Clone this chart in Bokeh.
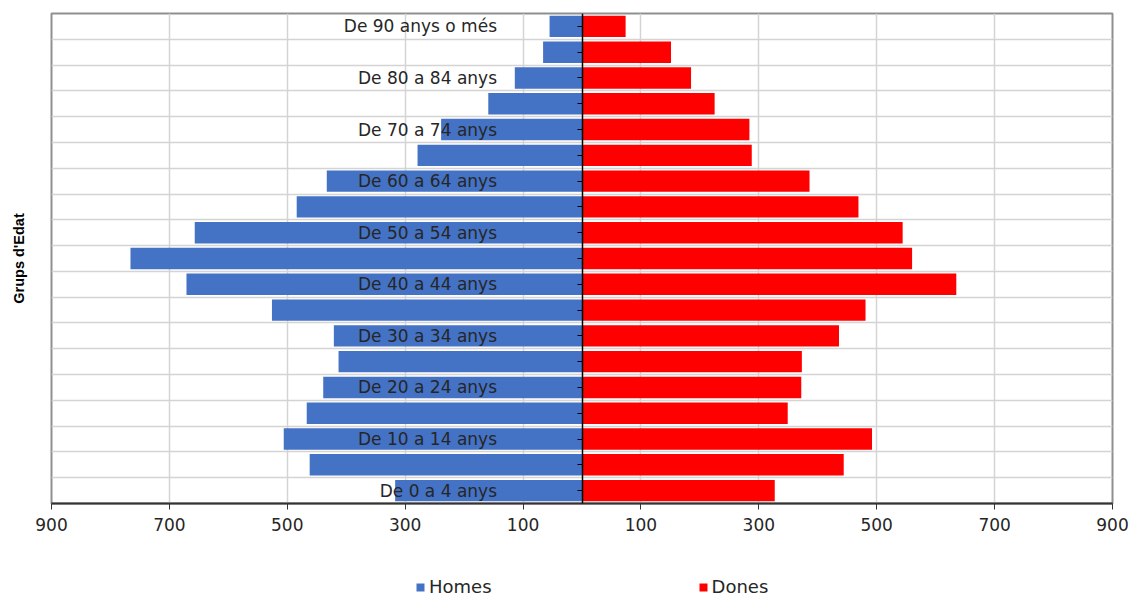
from bokeh.plotting import figure
from bokeh.models import (ColumnDataSource, Range1d, FixedTicker, LinearAxis,
                          Legend, LegendItem)
from bokeh.layouts import column
from bokeh.embed import file_html
from bokeh.resources import INLINE

# ---- data (bottom to top) ----
categories = ["De 0 a 4 anys", "De 5 a 9 anys", "De 10 a 14 anys", "De 15 a 19 anys",
              "De 20 a 24 anys", "De 25 a 29 anys", "De 30 a 34 anys", "De 35 a 39 anys",
              "De 40 a 44 anys", "De 45 a 49 anys", "De 50 a 54 anys", "De 55 a 59 anys",
              "De 60 a 64 anys", "De 65 a 69 anys", "De 70 a 74 anys", "De 75 a 79 anys",
              "De 80 a 84 anys", "De 85 a 89 anys", "De 90 anys o més"]
homes = [317, 462, 506, 467, 439, 413, 421, 526, 671, 766, 657, 484, 433, 279, 239, 159, 114, 66, 55]
dones = [327, 444, 492, 349, 372, 373, 436, 481, 635, 560, 544, 469, 386, 288, 284, 225, 185, 151, 74]
x_ticks = [-900, -700, -500, -300, -100, 100, 300, 500, 700, 900]
series_names = ["Homes", "Dones"]
series_colors = ["#4472C4", "#FF0000"]
axis_title = "Grups d'Edat"

idx = list(range(len(categories)))
src = ColumnDataSource(dict(
    y=idx,
    homes_left=[-v for v in homes],
    zero=[0] * len(idx),
    dones_right=dones,
))

TEXT = "#262626"
FONT = "DejaVu Sans"

p = figure(width=1130, height=560, output_backend="svg", toolbar_location=None,
           x_range=Range1d(-900, 900), y_range=Range1d(-0.5, len(categories) - 0.5),
           min_border_left=51, min_border_right=18, min_border_top=13, min_border_bottom=57)
p.background_fill_color = "white"
p.border_fill_color = "white"
p.outline_line_color = "#8f8f8f"
p.outline_line_width = 2

p.hbar(y="y", left="homes_left", right="zero", height=0.83, source=src,
       fill_color=series_colors[0], line_color=None)
p.hbar(y="y", left="zero", right="dones_right", height=0.83, source=src,
       fill_color=series_colors[1], line_color=None)

# x axis
xa = p.xaxis[0]
xa.ticker = FixedTicker(ticks=x_ticks)
xa.major_label_overrides = {t: str(abs(t)) for t in x_ticks}
xa.axis_line_color = "#333333"
xa.axis_line_width = 2
xa.major_tick_line_color = "#333333"
xa.major_tick_out = 6
xa.major_tick_in = 0
xa.minor_tick_out = 0
xa.minor_tick_in = 0
xa.major_label_standoff = 8
xa.major_label_text_font = FONT
xa.major_label_text_font_size = "17px"
xa.major_label_text_color = TEXT

# left axis: only carries the axis title (bounds shift the title upward)
la = p.yaxis[0]
la.ticker = FixedTicker(ticks=[])
la.bounds = (2.14, 18.5)
la.axis_line_color = None
la.major_tick_line_color = None
la.minor_tick_line_color = None
la.axis_label = axis_title
la.axis_label_standoff = 25
la.axis_label_text_font = "Liberation Sans"
la.axis_label_text_font_style = "bold"
la.axis_label_text_font_size = "14.5px"
la.axis_label_text_color = "black"

# vertical grid
p.xgrid.ticker = FixedTicker(ticks=x_ticks)
p.xgrid.grid_line_color = "#d4d4d4"
p.xgrid.grid_line_width = 1.5

# horizontal grid between age groups
p.ygrid.ticker = FixedTicker(ticks=[i + 0.5 for i in idx[:-1]])
p.ygrid.grid_line_color = "#d4d4d4"
p.ygrid.grid_line_width = 1.5

# category axis at zero
labels = {i: (c if i % 2 == 0 else "") for i, c in enumerate(categories)}
ya = LinearAxis(fixed_location=0, ticker=FixedTicker(ticks=idx),
                major_label_overrides=labels,
                axis_line_color="black", axis_line_width=1.5,
                major_tick_line_color="black", major_tick_out=5, major_tick_in=0,
                minor_tick_out=0, minor_tick_in=0,
                major_label_standoff=80,
                major_label_text_font=FONT, major_label_text_font_size="17px",
                major_label_text_color=TEXT)
p.add_layout(ya, "left")

# ---- legend strip ----
p2 = figure(width=1130, height=37, output_backend="svg", toolbar_location=None,
            x_axis_location=None, y_axis_location=None,
            x_range=Range1d(0, 1), y_range=Range1d(0, 1),
            min_border=0, min_border_left=0, min_border_right=0,
            min_border_top=0, min_border_bottom=0)
p2.outline_line_color = None
p2.background_fill_color = "white"
p2.border_fill_color = "white"
p2.grid.visible = False
lr_h = p2.hbar(y="y", left="homes_left", right="zero", height=0.83, source=src,
               fill_color=series_colors[0], line_color=None, visible=False)
lr_d = p2.hbar(y="y", left="zero", right="dones_right", height=0.83, source=src,
               fill_color=series_colors[1], line_color=None, visible=False)
legend = Legend(items=[LegendItem(label=series_names[0], renderers=[lr_h]),
                       LegendItem(label=series_names[1], renderers=[lr_d])],
                orientation="horizontal", location=(364, 0),
                spacing=206, glyph_width=10, glyph_height=10, label_standoff=4,
                padding=0, margin=0, border_line_color=None, background_fill_alpha=0,
                inactive_fill_alpha=0,
                label_text_font=FONT, label_text_font_size="18px", label_text_color=TEXT)
p2.add_layout(legend)

open("out.html", "w").write(file_html(column(p, p2, spacing=0), INLINE))
